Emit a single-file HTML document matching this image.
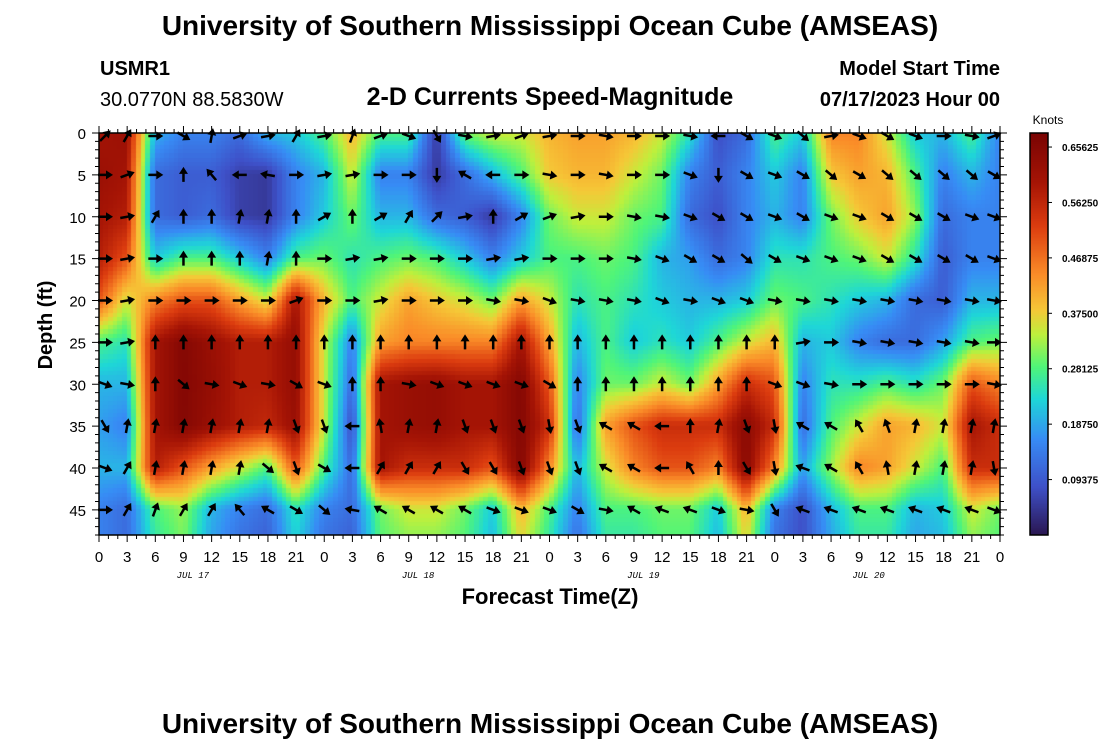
<!DOCTYPE html>
<html><head><meta charset="utf-8">
<style>
body{margin:0;background:#fff;width:1100px;height:750px;overflow:hidden;font-family:"Liberation Sans",sans-serif;}
svg text{font-family:"Liberation Sans",sans-serif;}
</style></head>
<body>
<div style="position:relative;width:1100px;height:750px">
<canvas id="heat" width="901" height="402" style="position:absolute;left:99px;top:133px"></canvas>
<canvas id="cbar" width="18" height="402" style="position:absolute;left:1030px;top:133px"></canvas>
<svg id="svg" width="1100" height="750" style="position:absolute;left:0;top:0">
<text x="550" y="35" text-anchor="middle" font-size="28" font-weight="bold">University of Southern Mississippi Ocean Cube (AMSEAS)</text>
<text x="100" y="75" font-size="20" font-weight="bold">USMR1</text>
<text x="100" y="106" font-size="20">30.0770N  88.5830W</text>
<text x="550" y="105" text-anchor="middle" font-size="25" font-weight="bold">2-D Currents Speed-Magnitude</text>
<text x="1000" y="75" text-anchor="end" font-size="20" font-weight="bold">Model Start Time</text>
<text x="1000" y="106" text-anchor="end" font-size="20" font-weight="bold">07/17/2023 Hour 00</text>
<text transform="translate(52,325) rotate(-90)" text-anchor="middle" font-size="20" font-weight="bold">Depth (ft)</text>
<text x="550" y="604" text-anchor="middle" font-size="22" font-weight="bold">Forecast Time(Z)</text>
<text x="1048" y="124" text-anchor="middle" font-size="12">Knots</text>
<text x="550" y="733" text-anchor="middle" font-size="28" font-weight="bold">University of Southern Mississippi Ocean Cube (AMSEAS)</text>
<g id="axes"></g>
<g id="arrows"></g>
</svg>
</div>
<script>
const hours=[0,3,6,9,12,15,18,21,24,27,30,33,36,39,42,45,48,51,54,57,60,63,66,69,72,75,78,81,84,87,90,93,96];
const depths=[0,5,10,15,20,25,30,35,40,45,50];
// speed (knots) per column (hour), rows = depths
const speed=[
[.60,.62,.60,.58,.50,.28,.20,.18,.20,.15,.15],
[.62,.60,.58,.50,.35,.25,.20,.15,.20,.12,.12],
[.20,.12,.12,.22,.45,.60,.60,.60,.58,.28,.25],
[.15,.10,.10,.28,.50,.66,.66,.66,.50,.32,.30],
[.15,.10,.12,.28,.50,.62,.63,.62,.42,.20,.18],
[.12,.06,.06,.22,.42,.58,.58,.58,.35,.15,.12],
[.20,.05,.05,.15,.35,.58,.58,.56,.28,.12,.10],
[.22,.15,.15,.28,.60,.63,.63,.62,.50,.25,.22],
[.28,.20,.22,.30,.40,.35,.35,.35,.28,.15,.12],
[.40,.35,.30,.25,.28,.15,.12,.08,.12,.12,.10],
[.28,.15,.20,.28,.35,.42,.60,.60,.60,.30,.28],
[.28,.15,.20,.30,.42,.45,.62,.62,.55,.35,.30],
[.05,.05,.12,.28,.38,.45,.63,.63,.55,.35,.30],
[.30,.12,.10,.22,.35,.45,.60,.60,.55,.30,.28],
[.35,.20,.05,.15,.30,.45,.60,.60,.50,.22,.20],
[.35,.28,.15,.22,.42,.60,.66,.66,.66,.40,.35],
[.40,.38,.30,.28,.35,.42,.50,.55,.45,.28,.25],
[.42,.40,.35,.28,.25,.20,.15,.12,.20,.15,.12],
[.42,.40,.35,.30,.28,.28,.30,.42,.35,.28,.25],
[.40,.35,.30,.28,.25,.22,.30,.50,.45,.28,.25],
[.35,.30,.28,.20,.22,.25,.35,.55,.50,.30,.28],
[.25,.15,.12,.18,.20,.22,.30,.55,.50,.30,.28],
[.08,.10,.08,.12,.20,.28,.42,.55,.45,.22,.20],
[.12,.15,.15,.15,.22,.35,.55,.65,.65,.40,.35],
[.28,.22,.20,.25,.30,.40,.50,.55,.45,.15,.12],
[.22,.15,.15,.25,.28,.20,.15,.12,.18,.08,.08],
[.45,.38,.30,.28,.25,.22,.25,.28,.32,.20,.18],
[.45,.42,.38,.30,.22,.15,.25,.35,.45,.28,.25],
[.35,.40,.42,.35,.20,.12,.28,.42,.42,.28,.25],
[.22,.28,.32,.25,.12,.12,.25,.40,.35,.20,.18],
[.20,.15,.12,.10,.10,.18,.30,.35,.28,.22,.20],
[.28,.20,.15,.15,.20,.28,.50,.60,.55,.35,.30],
[.15,.15,.15,.15,.20,.30,.45,.55,.55,.30,.28]];
// arrow directions (degrees, 0=east, 90=north) per depth row, per column
const dir=[
[45,60,0,-30,80,20,10,60,10,70,20,-20,-60,-10,10,20,10,0,-10,0,0,-10,180,-30,-20,-40,10,-20,-30,-20,0,-10,20],
[0,20,0,90,130,180,170,0,10,10,0,0,-90,150,180,0,-10,0,-10,0,0,-20,-90,-30,-20,-30,-40,-30,-40,-40,-40,-40,-30],
[0,10,60,90,90,80,80,90,30,90,30,60,45,10,90,30,20,10,0,-10,-10,-20,-30,-30,-20,-30,-20,-20,-30,-30,-30,-20,-20],
[0,10,0,90,90,90,80,90,0,10,10,0,0,0,10,10,0,0,0,-10,-20,-30,-30,-40,-30,-20,-20,-20,-30,-30,-30,-30,-20],
[0,10,0,0,0,0,0,20,0,0,10,0,0,0,-10,-10,-20,-10,-10,-10,-20,-10,-20,-20,-10,-10,-10,-10,-10,-10,-10,-10,-10],
[0,10,90,90,90,90,90,90,90,90,90,90,90,90,90,90,90,90,90,90,90,90,90,90,90,10,0,-10,-10,-10,-10,-10,0],
[-20,-10,90,-40,-10,-20,-10,-30,-20,90,90,-10,-20,-20,-20,-20,-30,90,90,90,90,90,90,90,-20,-20,-10,0,0,0,0,0,-10],
[-60,80,80,80,80,80,80,-70,-70,180,100,80,80,-70,-70,-70,-80,-70,150,150,180,90,80,-70,-80,150,150,120,110,80,80,80,80],
[-20,60,80,80,80,80,-40,-70,-30,180,60,60,60,-60,-60,-70,-70,-70,150,150,180,120,90,-60,-80,160,150,120,100,80,80,80,-80],
[0,60,70,60,60,130,150,-30,-40,170,150,150,150,150,-20,-20,-20,-30,-10,150,160,160,-20,-10,-60,160,160,160,160,160,160,160,-20]];
const X0=99,X1=1000,Y0=133,Y1=535,DMAX=48,VMAX=0.68;
const xs=h=>X0+(h/96)*(X1-X0), ys=d=>Y0+(d/DMAX)*(Y1-Y0);
const stops=[[0,[42,22,80]],[.12,[62,80,200]],[.24,[55,140,245]],[.34,[30,215,215]],[.42,[80,245,120]],[.5,[190,240,60]],[.56,[245,200,55]],[.65,[250,140,40]],[.77,[220,60,15]],[.88,[165,20,5]],[1,[122,4,3]]];
function cmap(v){let t=Math.max(0,Math.min(1,v/VMAX));for(let i=1;i<stops.length;i++){if(t<=stops[i][0]){const a=stops[i-1],b=stops[i],f=(t-a[0])/(b[0]-a[0]);return `rgb(${a[1].map((c,k)=>Math.round(c+(b[1][k]-c)*f)).join(',')})`;}}return 'rgb(122,4,3)';}
function val(h,d){let ci=Math.min(hours.length-2,Math.floor(h/3)),fx=(h-hours[ci])/3;let ri=Math.min(depths.length-2,Math.floor(d/5)),fy=(d-depths[ri])/5;
const a=speed[ci][ri],b=speed[ci+1][ri],c=speed[ci][ri+1],e=speed[ci+1][ri+1];return (a*(1-fx)+b*fx)*(1-fy)+(c*(1-fx)+e*fx)*fy;}
const ctx=document.getElementById('heat').getContext('2d');
const NX=96*2,NY=48*2;
for(let i=0;i<NX;i++)for(let j=0;j<NY;j++){const h=(i+0.5)*96/NX,d=(j+0.5)*DMAX/NY;ctx.fillStyle=cmap(val(h,d));
const x=xs(i*96/NX)-X0,y=ys(j*DMAX/NY)-Y0;ctx.fillRect(Math.floor(x),Math.floor(y),Math.ceil((X1-X0)/NX)+1,Math.ceil((Y1-Y0)/NY)+1);}
const cb=document.getElementById('cbar').getContext('2d');
for(let y=0;y<402;y++){cb.fillStyle=cmap((1-y/402)*VMAX);cb.fillRect(0,y,18,1);}
const NS='http://www.w3.org/2000/svg';
function mk(t,a,p){const e=document.createElementNS(NS,t);for(const k in a)e.setAttribute(k,a[k]);p.appendChild(e);return e;}
const axes=document.getElementById('axes');
const frame=mk('rect',{x:X0,y:Y0,width:X1-X0,height:Y1-Y0,fill:'none',stroke:'#000','stroke-width':1.5},axes);


const cbf=mk('rect',{x:1030,y:133,width:18,height:402,fill:'none',stroke:'#000','stroke-width':1.5},axes);


for(let h=0;h<=96;h++){const x=xs(h),L=h%3==0?7:4;mk('line',{x1:x,y1:Y1,x2:x,y2:Y1+L,stroke:'#000'},axes);mk('line',{x1:x,y1:Y0,x2:x,y2:Y0-L,stroke:'#000'},axes);}
for(let d=0;d<=DMAX;d++){const y=ys(d),L=d%5==0?7:4;mk('line',{x1:X0,y1:y,x2:X0-L,y2:y,stroke:'#000'},axes);mk('line',{x1:X1,y1:y,x2:X1+L,y2:y,stroke:'#000'},axes);}
hours.forEach(h=>{const t=mk('text',{x:xs(h),y:562,'text-anchor':'middle','font-size':15},axes);t.textContent=(h%24);

});
depths.slice(0,10).forEach(d=>{const t=mk('text',{x:86,y:ys(d)+6,'text-anchor':'end','font-size':15},axes);t.textContent=d;

});
const days=['JUL 17','JUL 18','JUL 19','JUL 20'];
days.forEach((s,i)=>{const t=mk('text',{x:xs(i*24+10),y:578,'text-anchor':'middle','font-size':9,style:'font-family:"Liberation Mono",monospace;font-style:italic'},axes);t.textContent=s;

});
const cbLabels=['0.65625','0.56250','0.46875','0.37500','0.28125','0.18750','0.09375'];
cbLabels.forEach(s=>{const v=parseFloat(s),y=133+(1-v/VMAX)*402;mk('line',{x1:1048,y1:y,x2:1052,y2:y,stroke:'#000'},axes);
const t=mk('text',{x:1062,y:y+4,'font-size':10,'font-weight':'bold'},axes);t.textContent=s;

});
const ag=document.getElementById('arrows');
dir.forEach((row,ri)=>row.forEach((a,ci)=>{const h=hours[ci],d=depths[ri];let x=xs(h)+(ci==0?6:0);if(ci==32)x-=6;const y=ys(d)+(ri==0?3:0);
const g=mk('g',{transform:`translate(${x},${y}) rotate(${-a})`},ag);


mk('line',{x1:-7,y1:0,x2:4,y2:0,stroke:'#000','stroke-width':2.5},g);
mk('polygon',{points:'8,0 1,-4.5 1,4.5',fill:'#000'},g);}));
</script>
</body></html>
